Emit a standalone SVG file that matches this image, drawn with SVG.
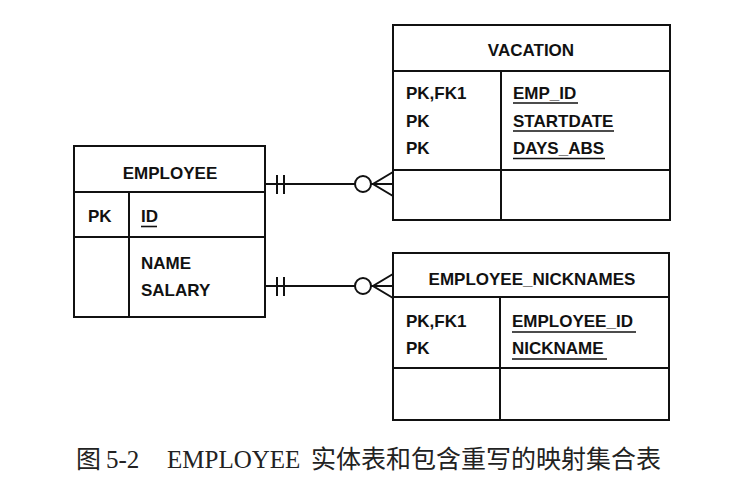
<svg xmlns="http://www.w3.org/2000/svg" width="754" height="493" viewBox="0 0 754 493">
<style>
.box{fill:#fff;stroke:#111;stroke-width:2}
.ln{stroke:#111;stroke-width:2;fill:none}
.ul{stroke:#111;stroke-width:1.6}
.t{font-family:"Liberation Sans",Arial,sans-serif;font-weight:bold;font-size:17px;fill:#111}
.c{text-anchor:middle}
.cap{font-family:"Liberation Serif","Noto Sans CJK SC",serif;font-size:25px;fill:#222}
</style>
<rect width="754" height="493" fill="#fff"/>
<g id="employee">
<rect class="box" x="74" y="146" width="191" height="171"/>
<line class="ln" x1="74" y1="192" x2="265" y2="192"/>
<line class="ln" x1="74" y1="237" x2="265" y2="237"/>
<line class="ln" x1="129" y1="192" x2="129" y2="317"/>
<text class="t c" x="170" y="178.5">EMPLOYEE</text>
<text class="t" x="88" y="222">PK</text>
<text class="t" x="141" y="222">ID</text>
<line class="ul" x1="141" y1="226.5" x2="157" y2="226.5"/>
<text class="t" x="141" y="269">NAME</text>
<text class="t" x="141" y="296">SALARY</text>
</g>
<g id="vacation">
<rect class="box" x="393" y="25" width="277" height="195"/>
<line class="ln" x1="393" y1="71" x2="670" y2="71"/>
<line class="ln" x1="393" y1="170" x2="670" y2="170"/>
<line class="ln" x1="501" y1="71" x2="501" y2="220"/>
<text class="t c" x="531" y="56">VACATION</text>
<text class="t" x="406" y="99">PK,FK1</text>
<text class="t" x="406" y="126.5">PK</text>
<text class="t" x="406" y="154">PK</text>
<text class="t" x="513" y="99">EMP_ID</text>
<text class="t" x="513" y="126.5">STARTDATE</text>
<text class="t" x="513" y="154">DAYS_ABS</text>
<line class="ul" x1="513" y1="103" x2="578" y2="103"/>
<line class="ul" x1="513" y1="131" x2="614" y2="131"/>
<line class="ul" x1="513" y1="158.5" x2="605" y2="158.5"/>
</g>
<g id="employee_nicknames">
<rect class="box" x="393" y="253" width="276" height="167"/>
<line class="ln" x1="393" y1="297" x2="669" y2="297"/>
<line class="ln" x1="393" y1="368" x2="669" y2="368"/>
<line class="ln" x1="500" y1="297" x2="500" y2="420"/>
<text class="t c" x="532" y="285">EMPLOYEE_NICKNAMES</text>
<text class="t" x="406" y="327">PK,FK1</text>
<text class="t" x="406" y="354">PK</text>
<text class="t" x="512" y="327">EMPLOYEE_ID</text>
<text class="t" x="512" y="354">NICKNAME</text>
<line class="ul" x1="512" y1="332" x2="636" y2="332"/>
<line class="ul" x1="512" y1="359" x2="607" y2="359"/>
</g>
<g id="connectors">
<g id="rel-vacation">
<line class="ln" x1="265" y1="184" x2="355" y2="184"/>
<line class="ln" x1="371" y1="184" x2="393" y2="184"/>
<line class="ln" x1="277" y1="175" x2="277" y2="194"/>
<line class="ln" x1="284" y1="175" x2="284" y2="194"/>
<circle class="ln" cx="363" cy="184" r="8"/>
<polyline class="ln" points="393,172 373,184 393,196"/>
</g>
<g id="rel-nicknames">
<line class="ln" x1="265" y1="286" x2="355" y2="286"/>
<line class="ln" x1="371" y1="286" x2="393" y2="286"/>
<line class="ln" x1="277" y1="277" x2="277" y2="296"/>
<line class="ln" x1="284" y1="277" x2="284" y2="296"/>
<circle class="ln" cx="363" cy="286" r="8"/>
<polyline class="ln" points="393,274 373,286 393,298"/>
</g>
</g>
<text class="cap" y="468"><tspan x="76">图</tspan><tspan x="106">5-2</tspan><tspan x="167">EMPLOYEE</tspan><tspan x="311">实体表和包含重写的映射集合表</tspan></text>
</svg>
